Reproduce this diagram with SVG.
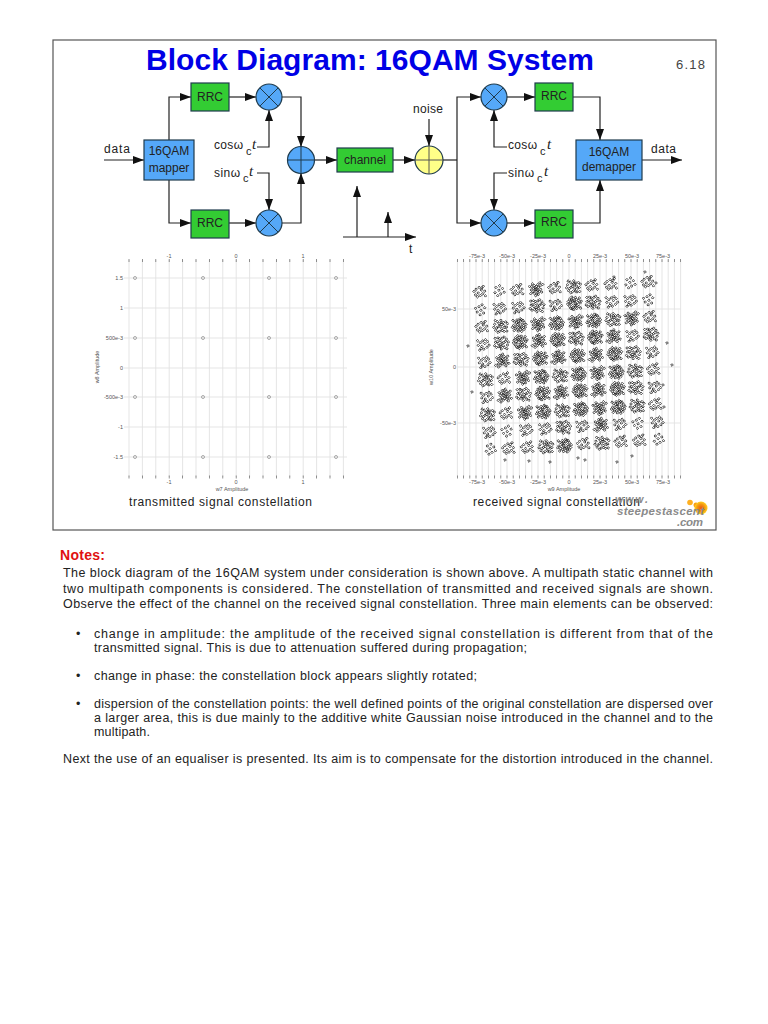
<svg xmlns="http://www.w3.org/2000/svg" width="768" height="1024" viewBox="0 0 768 1024">
<style>
text{font-family:"Liberation Sans",Arial,sans-serif;fill:#222}
.n{stroke:#1f3b4d;stroke-width:1.2}
.g{fill:#33cc33}.b{fill:#55a8f8}
.y{fill:#ffff88}
.m{fill:none;stroke:#1f3b4d;stroke-width:1}
.l{font-size:12px;text-anchor:middle}
.lb{font-size:12px}
.sub{font-size:11px}
.it{font-size:15px;font-style:italic;font-family:"Liberation Serif",serif}
.c{fill:none;stroke:#222;stroke-width:1.2}
.a{marker-end:url(#arr)}
.grid{fill:none;stroke:#e2e2e2;stroke-width:.9}
.tick{fill:none;stroke:#777;stroke-width:3;stroke-dasharray:.8 12.6}
.tick2{fill:none;stroke:#777;stroke-width:3;stroke-dasharray:.8 5.4}
.axm{font-size:5.5px;fill:#555;text-anchor:middle}
.axr{font-size:5.5px;fill:#555;text-anchor:end}
.pt{fill:none;stroke:#888;stroke-width:.7}
.p{font-size:12.5px}
.cl{fill:none;stroke:none;marker:url(#dm)}
.cl2{fill:none;stroke:none;marker:url(#dm2)}
</style>
<defs>
<marker id="arr" markerUnits="userSpaceOnUse" markerWidth="12" markerHeight="10" viewBox="0 0 12 10" refX="11" refY="5" orient="auto"><path d="M0 1L11 5L0 9Z" fill="#111"/></marker>
<marker id="dm" markerUnits="userSpaceOnUse" markerWidth="5" markerHeight="5" viewBox="-2.5 -2.5 5 5" refX="0" refY="0"><path d="M0-1.7L1.7 0L0 1.7L-1.7 0Z" fill="none" stroke="#111" stroke-width="1"/></marker>
<marker id="dm2" markerUnits="userSpaceOnUse" markerWidth="4" markerHeight="4" viewBox="-2 -2 4 4" refX="0" refY="0"><path d="M0-1.3L1.3 0L0 1.3L-1.3 0Z" fill="none" stroke="#111" stroke-width=".75"/></marker>
<polyline id="ca" class="cl" transform="scale(.75)" points="-6.3,-4.1 -3.2,-6.7 -0.8,-2.4 1.7,-5.2 3.9,-1.1 6.4,-3.6 -7.8,0.6 -4.6,1.3 -2.1,-0.7 0.4,1.9 2.6,3.1 5.2,0.8 7.9,2.7 -5.7,4.2 -2.9,5.6 -0.6,3.3 1.2,6.4 3.8,4.6 6.1,5.9 -1.7,8.1 0.9,-8.3 2.8,-7.1 -8.6,-6.2 8.7,-0.9 -3.7,-2.8 -1.4,-4.9 4.7,-6.3 -6.9,7.4 3.1,8.6 -9.4,3.1"/>
<polyline id="cb" class="cl" transform="scale(.75)" points="-8.1,-2.3 -5.3,2.7 -4.4,-5.8 -2.2,-3.1 -3.4,1.1 -0.9,0.3 0.2,-7.6 1.3,-2.2 1.6,3.4 3.3,-4.7 2.4,6.1 4.1,-0.6 5.7,2.2 6.6,-5.4 -1.2,6.9 -6.7,5.6 4.6,7.2 7.8,1.4 -7.2,-7.3 9.1,-3.2 -3.6,8.4 8.3,6.7 0.7,-4.4 -9.3,1.8"/>
<polyline id="cc" class="cl" transform="scale(.75)" points="-4.7,-6.8 -2.3,-4.6 -3.1,-0.9 0.3,-3.4 2.2,-5.9 -6.4,1.3 -4.2,3.6 -1.1,1.2 1.4,0.2 3.2,-2.3 5.6,-4.2 -2.4,5.7 0.2,3.1 2.3,2.4 4.4,3.3 6.3,0.4 1.2,6.8 -5.8,-3.1 3.4,7.1 7.6,4.1 -8.7,-3.4 -1.3,-1.6 -7.1,6.2 8.9,-6.1 -0.4,8.9 5.2,-8.3"/>
<polyline id="cs" class="cl" transform="scale(.75)" points="-5.2,-3.7 -2.4,1.3 -1.1,-6.2 1.6,-2.7 3.7,2.4 0.4,4.8 6.3,-1.2 -6.1,3.9 2.5,-5.4 -3.3,6.4 7.2,5.1 -8.1,-0.8 4.4,-7.6"/>
<polyline id="ct" class="cl" transform="scale(.75)" points="-3.6,-4.7 0.2,-1.1 2.7,3.8 -4.9,2.3 5.1,-3.4 1.2,-7.1 -1.4,6.2 7.3,1.6"/>
<g id="rowA"><use href="#cs"/><use href="#cb" x="18.7" y="-1"/><use href="#ca" x="37.4" y="-2"/><use href="#cc" x="56" y="-3"/><use href="#ca" x="74.8" y="-4"/><use href="#cc" x="93.5" y="-5.5"/><use href="#ca" x="112" y="-6.6"/><use href="#cb" x="131" y="-7.7"/><use href="#cc" x="149.6" y="-8.8"/><use href="#cs" x="168" y="-10"/></g>
<g id="rowB"><use href="#cb"/><use href="#cs" x="18.7" y="-1"/><use href="#cc" x="37.4" y="-2"/><use href="#ca" x="56" y="-3"/><use href="#cb" x="74.8" y="-4"/><use href="#ca" x="93.5" y="-5.5"/><use href="#cc" x="112" y="-6.6"/><use href="#ca" x="131" y="-7.7"/><use href="#cb" x="149.6" y="-8.8"/><use href="#cs" x="168" y="-10"/></g>
<g id="rowS"><use href="#cs"/><use href="#ct" x="18.7" y="-1"/><use href="#cs" x="37.4" y="-2"/><use href="#cc" x="56" y="-3"/><use href="#cs" x="74.8" y="-4"/><use href="#cb" x="93.5" y="-5.5"/><use href="#cs" x="112" y="-6.6"/><use href="#cs" x="131" y="-7.7"/><use href="#ct" x="149.6" y="-8.8"/><use href="#cs" x="168" y="-10"/></g>
<g id="rowT"><use href="#ct"/><use href="#cs" x="18.7" y="-1"/><use href="#cs" x="37.4" y="-2"/><use href="#cb" x="56" y="-3"/><use href="#ca" x="74.8" y="-4"/><use href="#cs" x="93.5" y="-5.5"/><use href="#cb" x="112" y="-6.6"/><use href="#cs" x="131" y="-7.7"/><use href="#cs" x="149.6" y="-8.8"/><use href="#ct" x="168" y="-10"/></g>
<filter id="soft" x="-5%" y="-5%" width="110%" height="110%"><feGaussianBlur stdDeviation=".3"/></filter>
<radialGradient id="og"><stop offset="0" stop-color="#e85a10"/><stop offset=".6" stop-color="#f59a10"/><stop offset="1" stop-color="#ffd020"/></radialGradient>
</defs>
<rect width="768" height="1024" fill="#fff"/>
<rect id="frame" x="53" y="40" width="663" height="490" fill="#fff" stroke="#555" stroke-width="1.2"/>
<text id="title" x="146" y="70" font-size="30" font-weight="700" textLength="448" style="fill:#0000e6">Block Diagram: 16QAM System</text>
<text id="page" x="676" y="69" font-size="13" textLength="29" style="fill:#444">6.18</text>

<g id="connectors">
<path class="c a" d="M104 160H144"/>
<path class="c a" d="M169 140V97H191"/>
<path class="c a" d="M169 180V223H191"/>
<path class="c a" d="M229 97H256"/>
<path class="c a" d="M229 223H256"/>
<path class="c a" d="M282 97H301V147"/>
<path class="c a" d="M282 223H301V173"/>
<path class="c a" d="M257 147H269V110"/>
<path class="c a" d="M257 173H269V210"/>
<path class="c a" d="M314 160H337"/>
<path class="c a" d="M393 160H415"/>
<path class="c a" d="M429 119V146"/>
<path class="c" d="M443 160H457"/>
<path class="c a" d="M457 160V97H481"/>
<path class="c a" d="M457 160V223H481"/>
<path class="c a" d="M507 97H535"/>
<path class="c a" d="M507 223H535"/>
<path class="c a" d="M573 97H600V140"/>
<path class="c a" d="M573 223H600V180"/>
<path class="c a" d="M507 147H494V110"/>
<path class="c a" d="M507 173H494V210"/>
<path class="c a" d="M642 160H682"/>
<path class="c a" d="M343 237H416"/>
<path class="c a" d="M357 237V186"/>
<path class="c a" d="M388 237V212"/>
</g>

<g id="mapper"><rect class="n b" x="144" y="140" width="50" height="40"/><text class="l" x="169" y="155" font-size="12">16QAM</text><text class="l" x="169" y="172">mapper</text></g>
<g id="rrc1"><rect class="n g" x="191" y="83" width="38" height="28"/><text class="l" x="210" y="101">RRC</text></g>
<g id="rrc2"><rect class="n g" x="191" y="210" width="38" height="28"/><text class="l" x="210" y="227">RRC</text></g>
<g id="mult1"><circle class="n b" cx="269" cy="97" r="13"/><path class="m" d="M260 88L278 106M278 88L260 106"/></g>
<g id="mult2"><circle class="n b" cx="269" cy="223" r="13"/><path class="m" d="M260 214L278 232M278 214L260 232"/></g>
<g id="sum"><circle class="n b" cx="301" cy="160" r="13.5"/><path class="m" d="M288 160H315M301 147V174"/></g>
<g id="channel"><rect class="n g" x="337" y="148" width="56" height="24"/><text class="l" x="365" y="164">channel</text></g>
<g id="adder"><circle class="n y" cx="429" cy="160" r="14"/><path class="m" d="M415 160H443M429 146V174" style="stroke:#555"/></g>
<g id="mult3"><circle class="n b" cx="494" cy="97" r="13"/><path class="m" d="M485 88L503 106M503 88L485 106"/></g>
<g id="mult4"><circle class="n b" cx="494" cy="223" r="13"/><path class="m" d="M485 214L503 232M503 214L485 232"/></g>
<g id="rrc3"><rect class="n g" x="535" y="83" width="38" height="28"/><text class="l" x="554" y="100">RRC</text></g>
<g id="rrc4"><rect class="n g" x="535" y="210" width="38" height="28"/><text class="l" x="554" y="226">RRC</text></g>
<g id="demapper"><rect class="n b" x="576" y="140" width="66" height="40"/><text class="l" x="609" y="156">16QAM</text><text class="l" x="609" y="171">demapper</text></g>

<g id="labels">
<text class="lb" x="104" y="153" textLength="26">data</text>
<text class="lb" x="651" y="153" textLength="25">data</text>
<text class="lb" x="413" y="113" textLength="30">noise</text>
<text class="lb" x="409" y="253">t</text>
<text class="lb" x="214" y="149" textLength="29">cosω</text><text class="sub" x="246" y="155">c</text><text class="it" x="252" y="149">t</text>
<text class="lb" x="214" y="177" textLength="26">sinω</text><text class="sub" x="243" y="182">c</text><text class="it" x="249" y="176">t</text>
<text class="lb" x="508" y="149" textLength="29">cosω</text><text class="sub" x="540" y="155">c</text><text class="it" x="547" y="149">t</text>
<text class="lb" x="508" y="177" textLength="26">sinω</text><text class="sub" x="537" y="182">c</text><text class="it" x="544" y="176">t</text>
</g>

<g id="plot-tx">
<path class="grid" d="M129 260V477M142.4 260V477M155.8 260V477M169.2 260V477M182.6 260V477M196 260V477M209.4 260V477M222.8 260V477M236.2 260V477M249.6 260V477M263 260V477M276.4 260V477M289.8 260V477M303.2 260V477M316.6 260V477M330 260V477M343.4 260V477"/>
<path class="grid" d="M124 278H347M124 308H347M124 338H347M124 368H347M124 397H347M124 427H347M124 457H347"/>
<path class="tick" d="M128.6 260.5H344.5M128.6 477H344.5"/>
<g class="pt"><circle cx="135" cy="278" r="1.5"/><circle cx="203" cy="278" r="1.5"/><circle cx="269" cy="278" r="1.5"/><circle cx="336" cy="278" r="1.5"/><circle cx="135" cy="338" r="1.5"/><circle cx="203" cy="338" r="1.5"/><circle cx="269" cy="338" r="1.5"/><circle cx="336" cy="338" r="1.5"/><circle cx="135" cy="397" r="1.5"/><circle cx="203" cy="397" r="1.5"/><circle cx="269" cy="397" r="1.5"/><circle cx="336" cy="397" r="1.5"/><circle cx="135" cy="457" r="1.5"/><circle cx="203" cy="457" r="1.5"/><circle cx="269" cy="457" r="1.5"/><circle cx="336" cy="457" r="1.5"/></g>
<text class="axm" x="169" y="258">-1</text><text class="axm" x="236" y="258">0</text><text class="axm" x="303" y="258">1</text>
<text class="axm" x="169" y="484">-1</text><text class="axm" x="236" y="484">0</text><text class="axm" x="303" y="484">1</text>
<text class="axr" x="123" y="280">1.5</text><text class="axr" x="123" y="310">1</text><text class="axr" x="123" y="340">500e-3</text><text class="axr" x="123" y="370">0</text><text class="axr" x="123" y="399">-500e-3</text><text class="axr" x="123" y="429">-1</text><text class="axr" x="123" y="459">-1.5</text>
<text class="axm" x="232" y="491">w7 Amplitude</text>
<text class="axm" transform="translate(98.5 367) rotate(-90)">w8 Amplitude</text>
<text x="129" y="506" font-size="12" textLength="183">transmitted signal constellation</text>
</g>

<g id="plot-rx">
<path class="grid" d="M457.4 260V477M463.6 260V477M469.8 260V477M476 260V477M482.2 260V477M488.4 260V477M494.6 260V477M500.8 260V477M507 260V477M513.2 260V477M519.4 260V477M525.6 260V477M531.8 260V477M538 260V477M544.2 260V477M550.4 260V477M556.6 260V477M562.8 260V477M569 260V477M575.2 260V477M581.4 260V477M587.6 260V477M593.8 260V477M600 260V477M606.2 260V477M612.4 260V477M618.6 260V477M624.8 260V477M631 260V477M637.2 260V477M643.4 260V477M649.6 260V477M655.8 260V477M662 260V477M668.2 260V477M674.4 260V477M680.6 260V477"/>
<path class="grid" d="M457 309H681M457 367H681M457 423H681"/>
<path class="tick2" d="M457 260.5H682M457 477H682"/>
<g id="scatter" filter="url(#soft)">
<use href="#rowS" x="480" y="292"/>
<use href="#rowT" transform="translate(649 299.5) rotate(180)"/>
<use href="#rowA" x="482" y="327"/>
<use href="#rowB" transform="translate(651 334.5) rotate(180)"/>
<use href="#rowA" transform="translate(652 352) rotate(180)"/>
<use href="#rowB" x="485.5" y="379.5"/>
<use href="#rowA" transform="translate(654.5 387) rotate(180)"/>
<use href="#rowB" x="487.5" y="414.5"/>
<use href="#rowS" transform="translate(657 422) rotate(180)"/>
<use href="#rowT" x="490" y="449.5"/>
<polyline class="cl2" points="468,346 472,392 663,385 664,407 672,365 667,343 656,283 645,272 614,277 578,458 617,462 505,460 529,461 550,462 585,460 632,456"/>
</g>
<text class="axm" x="477" y="258">-75e-3</text><text class="axm" x="507" y="258">-50e-3</text><text class="axm" x="538" y="258">-25e-3</text><text class="axm" x="569" y="258">0</text><text class="axm" x="600" y="258">25e-3</text><text class="axm" x="632" y="258">50e-3</text><text class="axm" x="663" y="258">75e-3</text>
<text class="axm" x="477" y="484">-75e-3</text><text class="axm" x="507" y="484">-50e-3</text><text class="axm" x="538" y="484">-25e-3</text><text class="axm" x="569" y="484">0</text><text class="axm" x="600" y="484">25e-3</text><text class="axm" x="632" y="484">50e-3</text><text class="axm" x="663" y="484">75e-3</text>
<text class="axr" x="456" y="311">50e-3</text><text class="axr" x="456" y="369">0</text><text class="axr" x="456" y="425">-50e-3</text>
<text class="axm" x="564" y="491">w9 Amplitude</text>
<text class="axm" transform="translate(432.5 367) rotate(-90)">w10 Amplitude</text>
<text x="473" y="506" font-size="12" textLength="167">received signal constellation</text>
</g>

<g id="logo">
<circle cx="690" cy="502.5" r="2.8" fill="#ffb020"/><circle cx="696" cy="505" r="2.5" fill="#f8a010"/><circle cx="701" cy="508" r="6.5" fill="url(#og)"/>
<text x="615" y="503" font-size="10.5" font-weight="700" font-style="italic" textLength="33" style="fill:#8a8a8a">www.</text>
<text x="617" y="515" font-size="11.5" font-weight="700" font-style="italic" textLength="87" style="fill:#8a8a8a">steepestascent</text>
<text x="677" y="526" font-size="11.5" font-weight="700" font-style="italic" textLength="26" style="fill:#8a8a8a">.com</text>
</g>

<g id="notes">
<text x="60" y="560" font-size="14" font-weight="700" textLength="45" style="fill:#e01010">Notes:</text>
<text class="p" x="63" y="577" textLength="650">The block diagram of the 16QAM system under consideration is shown above. A multipath static channel with</text>
<text class="p" x="63" y="593" textLength="650">two multipath components is considered. The constellation of transmitted and received signals are shown.</text>
<text class="p" x="63" y="608" textLength="650">Observe the effect of the channel on the received signal constellation. Three main elements can be observed:</text>
<text class="p" x="76" y="638">•</text>
<text class="p" x="94" y="638" textLength="619">change in amplitude: the amplitude of the received signal constellation is different from that of the</text>
<text class="p" x="94" y="652" textLength="433">transmitted signal. This is due to attenuation suffered during propagation;</text>
<text class="p" x="76" y="680">•</text>
<text class="p" x="94" y="680" textLength="383">change in phase: the constellation block appears slightly rotated;</text>
<text class="p" x="76" y="708">•</text>
<text class="p" x="94" y="708" textLength="619">dispersion of the constellation points: the well defined points of the original constellation are dispersed over</text>
<text class="p" x="94" y="722" textLength="619">a larger area, this is due mainly to the additive white Gaussian noise introduced in the channel and to the</text>
<text class="p" x="94" y="736" textLength="56">multipath.</text>
<text class="p" x="63" y="763" textLength="650">Next the use of an equaliser is presented. Its aim is to compensate for the distortion introduced in the channel.</text>
</g>
</svg>
